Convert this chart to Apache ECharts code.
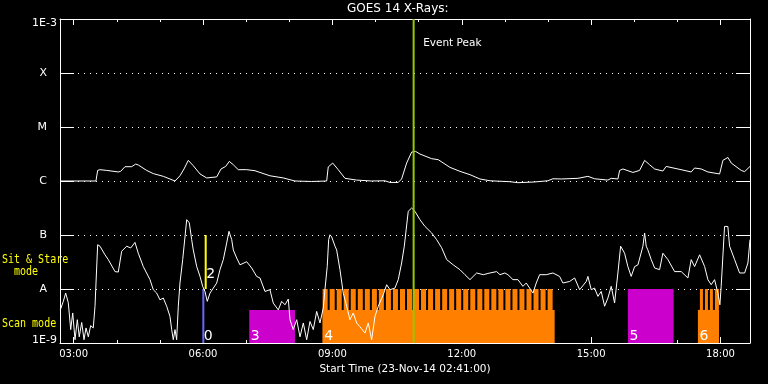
<!DOCTYPE html>
<html><head><meta charset="utf-8">
<script src="https://cdn.jsdelivr.net/npm/echarts@6/dist/echarts.min.js"></script>
<style>html,body{margin:0;padding:0;background:#000}#c{width:768px;height:384px}</style>
</head><body><div id="c"></div>
<script>
// ---- time axis (minutes since 00:00 UT, 23-Nov-2014) ----
const START_MIN = 161;   // 02:41
const END_MIN = 1121;    // 18:41
const xMajorTicks = [180, 360, 540, 720, 900, 1080];
const xMinorTicks = [180, 240, 300, 360, 420, 480, 540, 600, 660, 720, 780, 840, 900, 960, 1020, 1080];
// ---- flux axis ----
const yTickLabels = ['1E-9', 'A', 'B', 'C', 'M', 'X', '1E-3'];  // 1e-9 ... 1e-3
const EVENT_PEAK_MIN = 653;   // 10:53

// GOES 14 long channel (1-8 A) [minute, W/m^2]
const longChannel = [
 [161,1.0e-6],[211,1.0e-6],[213.4,1.57e-6],[216.6,1.62e-6],[226,1.57e-6],[242.1,1.47e-6],[245.4,1.51e-6],
 [251.4,1.84e-6],[260.7,1.84e-6],[266.3,2.06e-6],[269.9,1.98e-6],[281.6,1.57e-6],[290.8,1.37e-6],[304.7,1.22e-6],
 [321,1.0e-6],[327.9,1.25e-6],[333.5,1.67e-6],[339.5,2.41e-6],[346.4,1.92e-6],[355.8,1.35e-6],[365.1,1.14e-6],
 [379,1.19e-6],[385,1.67e-6],[391.5,1.86e-6],[396.5,2.31e-6],[402.1,2.0e-6],[409,1.62e-6],[420.7,1.62e-6],
 [432.3,1.55e-6],[439.2,1.44e-6],[453.1,1.25e-6],[471.6,1.14e-6],[487.9,1.0e-6],[511.1,0.98e-6],[532,1.0e-6],
 [534.2,1.82e-6],[540.4,2.15e-6],[548.1,1.62e-6],[557.5,1.12e-6],[573.7,1.04e-6],[594.6,1.0e-6],[613.1,1.01e-6],
 [620.1,0.94e-6],[631.6,0.94e-6],[636.3,1.09e-6],[643.3,2.15e-6],[650.3,3.44e-6],[655.8,3.53e-6],[661.8,3.16e-6],
 [678.1,2.59e-6],[687.3,2.48e-6],[703.5,1.79e-6],[717.4,1.51e-6],[731.4,1.31e-6],[745.3,1.09e-6],[759.2,1.01e-6],
 [787,0.97e-6],[798.1,0.93e-6],[821.4,0.96e-6],[839.9,1.01e-6],[846.8,1.10e-6],[858.4,1.09e-6],[881.6,1.12e-6],
 [895.5,1.22e-6],[904.8,1.10e-6],[923.3,1.04e-6],[927.9,1.12e-6],[937.2,1.09e-6],[939.6,1.57e-6],[944.2,1.67e-6],
 [958.1,1.44e-6],[967.4,1.57e-6],[974.4,2.41e-6],[981.3,2.0e-6],[988.3,1.67e-6],[999.8,1.53e-6],[1004.4,1.86e-6],
 [1020.7,1.67e-6],[1039.2,1.47e-6],[1043.9,1.74e-6],[1053.1,1.67e-6],[1062.4,1.47e-6],[1078.7,1.35e-6],
 [1083.3,2.41e-6],[1090.3,2.73e-6],[1094.9,2.15e-6],[1108.8,1.57e-6],[1113.5,1.49e-6],[1121,1.86e-6]
];

// GOES 14 short channel (0.5-4 A) [minute, W/m^2]
const shortChannel = [
 [161.4,4.1e-9],[165.6,5.9e-9],[168.9,8.4e-9],[172.5,5.6e-9],[175.9,1.77e-9],[178.7,3.6e-9],[181.9,1.15e-9],
 [185.1,2.7e-9],[187.8,1.3e-9],[191.2,2.4e-9],[194.4,1.15e-9],[197.2,1.9e-9],[200.4,1.3e-9],[203.7,2.1e-9],
 [207.3,1.9e-9],[209.7,4.8e-9],[211.1,1.29e-8],[213.4,6.6e-8],[216.6,6.2e-8],[223.6,4.3e-8],[228.2,3.5e-8],
 [237.5,2.1e-8],[242.1,2.06e-8],[246.8,5.0e-8],[253.8,6.2e-8],[259.4,5.75e-8],[265.3,7.3e-8],[269.9,4.6e-8],
 [276.9,2.6e-8],[286.2,1.49e-8],[290.8,9.7e-9],[295.5,8.4e-9],[300.1,6.3e-9],[304.7,6.8e-9],[309.4,4.8e-9],
 [314,3.1e-9],[316.4,1.77e-9],[318.6,1.15e-9],[321,1.77e-9],[323.3,1.15e-9],[325.6,4.8e-9],[327.9,1.29e-8],
 [331.7,3.5e-8],[337.3,1.92e-7],[340.9,1.68e-7],[344.2,8.2e-8],[346.4,5.3e-8],[351.2,2.6e-8],[355.8,1.71e-8],
 [359.5,1.12e-8],[362.7,9.0e-9],[365.9,5.9e-9],[369.7,8.4e-9],[374.3,1.04e-8],[379,1.29e-8],[383.6,2.28e-8],
 [388.2,3.5e-8],[392.9,7.1e-8],[396.1,1.17e-7],[399.9,8.2e-8],[402.1,5.3e-8],[406.8,3.75e-8],[411.4,2.8e-8],
 [420.7,3.2e-8],[427.7,2.45e-8],[434.6,1.71e-8],[439.2,1.6e-8],[446.2,9.0e-9],[453.1,9.7e-9],[457.7,5.5e-9],
 [464.7,4.1e-9],[469.4,5.9e-9],[474,5.1e-9],[478.6,6.5e-9],[481,2.7e-9],[485.5,1.77e-9],[490.3,2.7e-9],
 [494.9,1.3e-9],[499.5,2.35e-9],[504.2,1.15e-9],[508.8,2.5e-9],[513.4,1.77e-9],[518.1,3.85e-9],[522.7,2.35e-9],
 [527.3,4.45e-9],[529.6,9.7e-9],[532.8,2.6e-8],[534.8,8.2e-8],[536.6,1.01e-7],[539,9.2e-8],[543.6,6.2e-8],
 [545.9,5.3e-8],[550.5,2.28e-8],[555.1,8.4e-9],[559.8,4.8e-9],[564.4,2.7e-9],[569,3.6e-9],[573.7,2.35e-9],
 [578.3,2.0e-9],[585.3,1.53e-9],[589.9,2.35e-9],[594.6,1.15e-9],[599.2,3.1e-9],[603.8,4.8e-9],[610.7,7.8e-9],
 [615.5,1.2e-8],[620.1,9.7e-9],[627,1.04e-8],[631.6,1.49e-8],[636.3,3.03e-8],[640,6.2e-8],[645.5,2.75e-7],
 [650.2,3.16e-7],[654.8,2.75e-7],[661.8,1.92e-7],[668.8,1.44e-7],[678.1,1.09e-7],[685,8.2e-8],[692,5.8e-8],
 [699,3.5e-8],[708.1,2.8e-8],[717.4,2.28e-8],[724.4,1.84e-8],[731.4,1.49e-8],[740.7,1.98e-8],[749.9,1.84e-8],
 [759.2,1.98e-8],[768.5,2.1e-8],[773.1,1.84e-8],[780,1.98e-8],[784.2,1.84e-8],[791.2,1.49e-8],[798.1,1.49e-8],
 [805.1,1.12e-8],[809.7,1.29e-8],[819,8.4e-9],[823.6,1.29e-8],[828.3,1.84e-8],[837.5,1.84e-8],[846.8,1.98e-8],
 [856.1,1.71e-8],[860.7,1.29e-8],[870.1,1.38e-8],[877,1.6e-8],[884,9.7e-9],[893.2,1.38e-8],[895.5,1.71e-8],
 [900.1,9.7e-9],[904.8,1.04e-8],[909.4,7.3e-9],[914,9.0e-9],[918.7,4.8e-9],[923.3,6.8e-9],[927.9,1.12e-8],
 [932.6,5.5e-9],[937.2,1.98e-8],[941,6.2e-8],[946.5,4.6e-8],[951.1,2.6e-8],[955.7,1.71e-8],[960.5,2.6e-8],
 [965.1,2.8e-8],[972,6.2e-8],[974.4,1.09e-7],[976.6,6.2e-8],[978.9,5.3e-8],[983.6,3.5e-8],[988.3,2.45e-8],
 [995.2,2.28e-8],[999.8,4.6e-8],[1006.8,3.5e-8],[1016.1,2.1e-8],[1025.3,2.1e-8],[1034.6,1.6e-8],[1039.2,3.5e-8],
 [1043.9,2.6e-8],[1050.9,4.3e-8],[1057.9,2.6e-8],[1062.4,1.49e-8],[1067,1.2e-8],[1071.7,1.49e-8],[1076.3,8.4e-9],
 [1079.1,5.1e-9],[1080.9,1.12e-8],[1085.6,1.44e-7],[1090.2,1.44e-7],[1092.6,6.2e-8],[1099.6,3.5e-8],
 [1106.5,1.98e-8],[1113.5,1.98e-8],[1118.1,3.03e-8],[1121,8.2e-8]
];

// observation blocks: levels (flux) used as bar tops
const FLOOR_LEVEL = 1e-9;
const SCAN_LEVEL = 4.1e-9;
const STARE_LEVEL = 1e-8;
const FLAG_LEVEL = 1e-7;
// scan-mode periods [start, end, obs id]
const scanPeriods = [[424.3, 487.9, '3'], [526.4, 849.2, '4'], [1048.5, 1077.7, '6']];
// sit & stare periods [start, end, obs id]
const starePeriods = [
 [359.0, 361.8, '0'], [951.1, 1014.7, '5'],
 [526.4,533.4,'4'],[536.2,543.2,'4'],[546.0,553.0,'4'],[555.7,562.7,'4'],[565.5,572.5,'4'],[575.3,582.3,'4'],
 [585.1,592.1,'4'],[594.9,601.9,'4'],[604.6,611.6,'4'],[614.4,621.4,'4'],[624.2,631.2,'4'],[634.0,641.0,'4'],
 [643.8,650.8,'4'],[653.5,660.5,'4'],[663.3,670.3,'4'],[673.1,680.1,'4'],[682.9,689.9,'4'],[692.7,699.7,'4'],
 [702.4,709.4,'4'],[712.2,719.2,'4'],[722.0,729.0,'4'],[731.8,738.8,'4'],[741.6,748.6,'4'],[751.3,758.3,'4'],
 [761.1,768.1,'4'],[770.9,777.9,'4'],[780.7,787.7,'4'],[790.5,797.5,'4'],[800.2,807.2,'4'],[810.0,817.0,'4'],
 [819.8,826.8,'4'],[829.6,836.6,'4'],[839.4,846.4,'4'],
 [1051.3,1055.5,'6'],[1058.3,1062.5,'6'],[1065.2,1069.4,'6'],[1072.2,1077.7,'6']
];
// flag period [start, end, obs id]
const flagPeriods = [[362.3, 365.1, '2']];

const obsColor = {'0':'#6666ff','2':'#ffff00','3':'#cc00cc','4':'#ff8000','5':'#cc00cc','6':'#ff8000'};

const blocks = [];
scanPeriods.forEach(p => blocks.push({s:p[0], e:p[1], lo:FLOOR_LEVEL, hi:SCAN_LEVEL, id:p[2], lift:0}));
starePeriods.forEach(p => blocks.push({s:p[0], e:p[1], lo:FLOOR_LEVEL, hi:STARE_LEVEL, id:p[2], lift:0}));
flagPeriods.forEach(p => blocks.push({s:p[0], e:p[1], lo:STARE_LEVEL, hi:FLAG_LEVEL, id:p[2], lift:8}));
const seen = {};
blocks.forEach(b => { if (!seen[b.id]) { seen[b.id] = true; b.label = b.id; } });

function hhmm(m) {
  const h = Math.floor(m / 60), mm = Math.round(m % 60);
  return String(h).padStart(2, '0') + ':' + String(mm).padStart(2, '0');
}
const FONT = 'DejaVu Sans';
const MONO = '10px "DejaVu Sans Mono"';
const xCommon = {type:'value', min:START_MIN, max:END_MIN, gridIndex:0, splitLine:{show:false}};

const chart = echarts.init(document.getElementById('c'));
chart.setOption({
  animation: false,
  backgroundColor: '#000',
  title: {text:'GOES 14 X-Rays:', left:347, top:3, padding:0,
    textStyle:{color:'#fff', fontSize:12, fontWeight:'normal', fontFamily:FONT}},
  grid: {left:60, right:18, top:19, bottom:41},
  graphic: [
    {type:'text', x:2, y:266, scaleY:1.2, style:{text:'Sit & Stare', fill:'#ffff00', font:MONO, verticalAlign:'bottom'}},
    {type:'text', x:2, y:278, scaleY:1.2, style:{text:'  mode', fill:'#ffff00', font:MONO, verticalAlign:'bottom'}},
    {type:'text', x:2, y:330, scaleY:1.2, style:{text:'Scan mode', fill:'#ffff00', font:MONO, verticalAlign:'bottom'}}
  ],
  xAxis: [
    Object.assign({}, xCommon, {position:'bottom', offset:0,
      name:'Start Time (23-Nov-14 02:41:00)', nameLocation:'middle', nameGap:19,
      nameTextStyle:{color:'#fff', fontSize:10.5, fontFamily:FONT},
      axisLine:{show:true, onZero:false, lineStyle:{color:'#fff', width:1}},
      axisTick:{show:true, inside:true, length:6, customValues:xMajorTicks, lineStyle:{color:'#fff'}},
      axisLabel:{show:true, customValues:xMajorTicks, formatter:hhmm, color:'#fff', fontSize:10, fontFamily:FONT, margin:6}}),
    Object.assign({}, xCommon, {position:'bottom', offset:0,
      axisLine:{show:false}, axisLabel:{show:false},
      axisTick:{show:true, inside:true, length:3, customValues:xMinorTicks, lineStyle:{color:'#fff'}}}),
    Object.assign({}, xCommon, {position:'top', offset:0,
      axisLine:{show:true, onZero:false, lineStyle:{color:'#fff', width:1}}, axisLabel:{show:false},
      axisTick:{show:true, inside:true, length:6, customValues:xMajorTicks, lineStyle:{color:'#fff'}}}),
    Object.assign({}, xCommon, {position:'top', offset:0,
      axisLine:{show:false}, axisLabel:{show:false},
      axisTick:{show:true, inside:true, length:3, customValues:xMinorTicks, lineStyle:{color:'#fff'}}})
  ],
  yAxis: [
    {type:'log', logBase:10, min:1e-9, max:1e-3, splitNumber:6, position:'left',
      axisLine:{show:true, onZero:false, lineStyle:{color:'#fff', width:1}},
      axisTick:{show:true, inside:true, length:14, lineStyle:{color:'#fff'}},
      splitLine:{show:true, lineStyle:{color:'#fff', width:1, type:[1,5]}},
      axisLabel:{show:true, margin:3, color:'#fff', fontSize:11, fontFamily:FONT,
        formatter: v => {
          const e = Math.round(Math.log10(v));
          const s = yTickLabels[e + 9];
          if (e === -3) return '{t|' + s + '}';
          if (e === -9) return '{b|' + s + '}';
          return '{c|' + s + '}';
        },
        rich:{
          c:{color:'#fff', fontSize:11, fontFamily:FONT, padding:[0,10,0,0]},
          t:{color:'#fff', fontSize:11, fontFamily:FONT, padding:[8,0,0,0]},
          b:{color:'#fff', fontSize:11, fontFamily:FONT, padding:[0,0,6,0]}
        }}},
    {type:'log', logBase:10, min:1e-9, max:1e-3, splitNumber:6, position:'right',
      axisLine:{show:true, onZero:false, lineStyle:{color:'#fff', width:1}},
      axisTick:{show:true, inside:true, length:14, lineStyle:{color:'#fff'}},
      splitLine:{show:false}, axisLabel:{show:false}}
  ],
  series: [
    {type:'custom', name:'observations', xAxisIndex:0, yAxisIndex:0, z:1, silent:true,
      data: blocks.map(b => [b.s, b.e, b.lo, b.hi]),
      encode:{x:[0,1], y:[2,3]},
      renderItem: (params, api) => {
        const b = blocks[params.dataIndex];
        const p0 = api.coord([api.value(0), api.value(3)]);
        const p1 = api.coord([api.value(1), api.value(2)]);
        const children = [{type:'rect', shape:{x:p0[0], y:p0[1], width:p1[0]-p0[0], height:p1[1]-p0[1]},
          style:{fill:obsColor[b.id]}}];
        if (b.label) {
          children.push({type:'text', z2:10, style:{text:b.label, x:p0[0]+1.5, y:p1[1]-b.lift,
            fill:'#fff', font:'14px "DejaVu Sans"', align:'left', verticalAlign:'bottom',
            textAlign:'left', textVerticalAlign:'bottom'}});
        }
        return {type:'group', children};
      }},
    {type:'line', name:'1-8 A', data:longChannel, xAxisIndex:0, yAxisIndex:0, z:3,
      showSymbol:false, symbol:'none', lineStyle:{color:'#fff', width:1}},
    {type:'line', name:'0.5-4 A', data:shortChannel, xAxisIndex:0, yAxisIndex:0, z:3,
      showSymbol:false, symbol:'none', lineStyle:{color:'#fff', width:1}},
    {type:'custom', name:'event', xAxisIndex:0, yAxisIndex:0, z:5, silent:true,
      data:[[EVENT_PEAK_MIN]], encode:{x:0},
      renderItem: (params, api) => {
        const top = api.coord([api.value(0), 1e-3]);
        const bot = api.coord([api.value(0), 1e-9]);
        return {type:'group', children:[
          {type:'line', shape:{x1:top[0], y1:top[1], x2:bot[0], y2:bot[1]}, style:{stroke:'#96c800', lineWidth:2}},
          {type:'text', style:{text:'Event Peak', x:top[0]+9.5, y:top[1]+24, fill:'#fff',
            font:'10.5px "DejaVu Sans"', align:'left', verticalAlign:'middle', textAlign:'left', textVerticalAlign:'middle'}}
        ]};
      }}
  ]
});
</script>
</body></html>
